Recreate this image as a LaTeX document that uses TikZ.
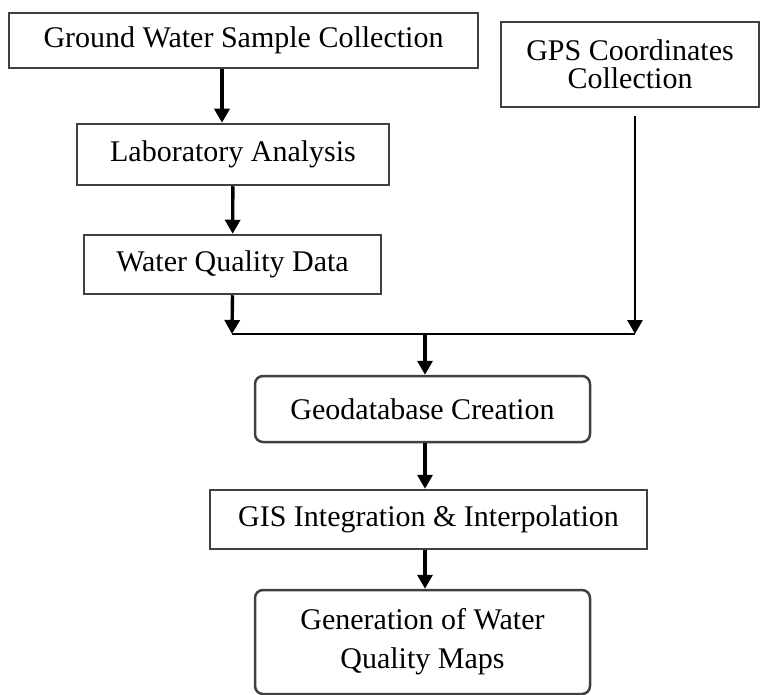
\documentclass[tikz,border=0pt]{standalone}
\usepackage{fontspec}
\setmainfont{Liberation Serif}
\usetikzlibrary{arrows.meta}
\newcommand{\boxfont}{\fontsize{15}{14}\selectfont}

\begin{document}
\begin{tikzpicture}[x=0.5pt,y=-0.5pt,
   blk/.style={draw=black!75,line width=1.25pt,align=center,inner sep=0pt,font=\boxfont},
   rblk/.style={blk,rounded corners=4pt},
   arr/.style={line width=1.7pt,-{Triangle[length=7pt,width=7.5pt]}}]
   \useasboundingbox (0,0) rectangle (760,695);
   \node[blk,minimum width=234.5pt,minimum height=27.5pt] (gw) at (243.5,40.5) {Ground Water Sample Collection};
   \node[blk,minimum width=129pt,minimum height=42.5pt] (gps) at (630,64.5) {GPS Coordinates\\Collection};
   \node[blk,minimum width=156pt,minimum height=30.5pt] (lab) at (233,154.5) {Laboratory Analysis};
   \node[blk,minimum width=148.5pt,minimum height=29.5pt] (wqd) at (232.5,264.5) {Water Quality Data};
   \node[rblk,minimum width=167.5pt,minimum height=33pt] (geo) at (422.5,409) {Geodatabase Creation};
   \node[blk,minimum width=218.5pt,minimum height=29.5pt] (gis) at (428.5,519.5) {GIS Integration \& Interpolation};
   \node[rblk,minimum width=167.5pt,minimum height=52pt,font=\fontsize{15}{19.5}\selectfont] (gen) at (422.5,642) {Generation of Water\\Quality Maps};
   \coordinate (jl) at (232,334);
   \coordinate (jm) at (425,334);
   \coordinate (jr) at (635,334);
   \draw[arr] (gw.south -| 222,0) -- (lab.north -| 222,0);
   \draw[arr] (lab) -- (wqd);
   \draw[arr] (wqd.south) -- (jl);
   \draw[arr,line width=1.4pt,shorten <=4pt] (gps.south -| jr) -- (jr);
   \draw[line width=1.1pt] (jl) -- (jr);
   \draw[arr] (jm) -- (geo.north -| jm);
   \draw[arr] (geo.south -| jm) -- (gis.north -| jm);
   \draw[arr] (gis.south -| jm) -- (gen.north -| jm);
\end{tikzpicture}
\end{document}
